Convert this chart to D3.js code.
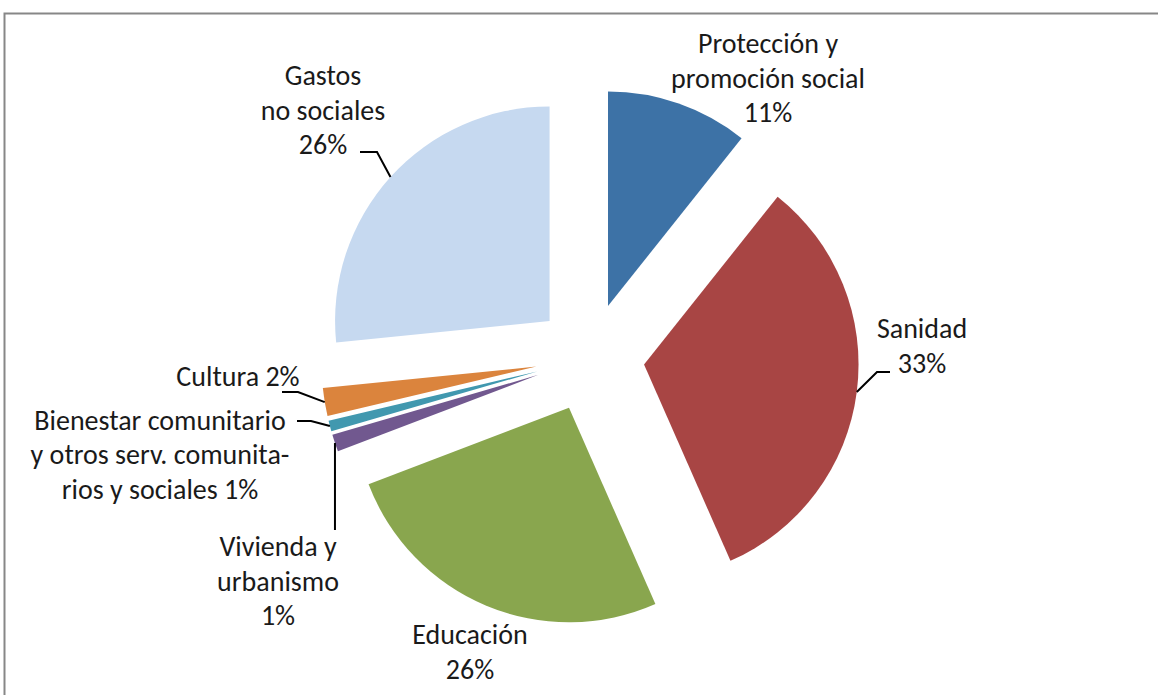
<!DOCTYPE html>
<html>
<head>
<meta charset="utf-8">
<script src="https://cdn.jsdelivr.net/npm/d3@7"></script>
<style>
  html, body { margin: 0; padding: 0; background: #ffffff; }
  svg { display: block; }
  text { font-family: Carlito, Calibri, Lato, "Open Sans", sans-serif; fill: #1a1a1a; }
</style>
</head>
<body>
<svg id="chart" width="1158" height="695"></svg>
<script>
// ---- data ----
const categories = [
  "Protección y promoción social",
  "Sanidad",
  "Educación",
  "Vivienda y urbanismo",
  "Bienestar comunitario y otros serv. comunitarios y sociales",
  "Cultura",
  "Gastos no sociales"
];
const values = [10.7, 32.7, 25.8, 1.3, 0.8, 2.1, 26.6];
const labelLines = [
  ["Protección y", "promoción social", "11%"],
  ["Sanidad", "33%"],
  ["Educación", "26%"],
  ["Vivienda y", "urbanismo", "1%"],
  ["Bienestar comunitario", "y otros serv. comunita-", "rios y sociales 1%"],
  ["Cultura 2%"],
  ["Gastos", "no sociales", "26%"]
];
const colors = ["#3D72A6", "#A84544", "#89A64E", "#71588F", "#4198AF", "#DB843D", "#C6D9F0"];

// ---- layout (label placement, not data) ----
const labelPos = [[768, 43.5], [922, 328.5], [470, 634.5], [278, 546.5], [160, 420], [238, 376], [323, 75.5]];
// leader: [elbowX, elbowY, endX, endY]; elbow null => straight line from arc point to end
const leaders = [null, [877, 372, 890, 372], null, [null, null, 335, 530], [311, 421, 297, 421], [298, 392, 282, 392], [377, 152, 360, 152]];

const W = 1158, H = 695;
const cx = 590, cy = 357.5, R = 214.5, explode = 54.5;
const lineH = 34.5;

const svg = d3.select("#chart");

// frame
svg.append("rect")
  .attr("x", 4.5).attr("y", 13.5)
  .attr("width", 1300).attr("height", 900)
  .attr("fill", "none").attr("stroke", "#878787").attr("stroke-width", 2);

const pie = d3.pie().sort(null).value(d => d).startAngle(0).endAngle(2 * Math.PI);
const arcs = pie(values);
const arc = d3.arc().innerRadius(0).outerRadius(R);

const g = svg.append("g").attr("transform", `translate(${cx},${cy})`);

function offset(d) {
  const m = (d.startAngle + d.endAngle) / 2;
  return [Math.sin(m) * explode, -Math.cos(m) * explode];
}

g.selectAll("path.slice")
  .data(arcs)
  .enter().append("path")
  .attr("class", "slice")
  .attr("d", arc)
  .attr("fill", (d, i) => colors[i])
  .attr("transform", d => { const o = offset(d); return `translate(${o[0]},${o[1]})`; });

// leader lines
arcs.forEach((d, i) => {
  const L = leaders[i];
  if (!L) return;
  const m = (d.startAngle + d.endAngle) / 2;
  const o = offset(d);
  const px = cx + o[0] + Math.sin(m) * R;
  const py = cy + o[1] - Math.cos(m) * R;
  const pts = [[px, py]];
  if (L[0] !== null) pts.push([L[0], L[1]]);
  else pts.push([px, L[3]]);
  if (L[0] !== null) pts.push([L[2], L[3]]);
  svg.append("path")
    .attr("d", d3.line()(pts))
    .attr("fill", "none")
    .attr("stroke", "#000")
    .attr("stroke-width", 2);
});

// labels
labelLines.forEach((lines, i) => {
  const [x, y] = labelPos[i];
  const t = svg.append("text")
    .attr("text-anchor", "middle")
    .attr("font-size", 28);
  lines.forEach((s, k) => {
    t.append("tspan")
      .attr("x", x)
      .attr("y", y + k * lineH)
      .attr("dominant-baseline", "central")
      .text(s);
  });
});
</script>
</body>
</html>
